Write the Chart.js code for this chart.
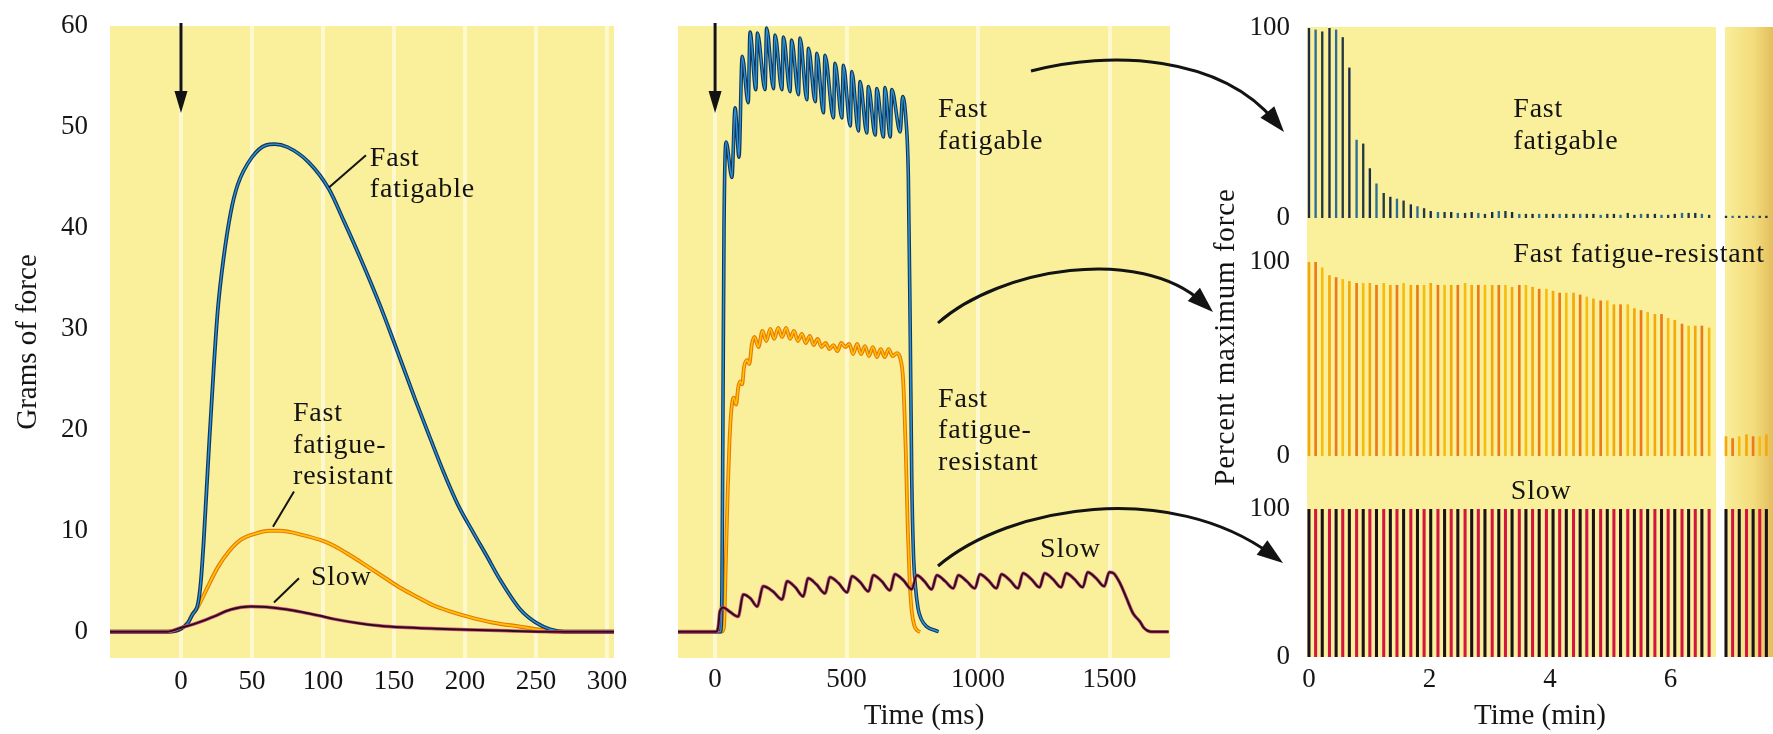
<!DOCTYPE html>
<html>
<head>
<meta charset="utf-8">
<script src="https://cdn.jsdelivr.net/npm/chart.js@4.4.1/dist/chart.umd.min.js"></script>
<style>
  body { margin: 0; background: #fff; width: 1773px; height: 734px; position: relative; overflow: hidden; }
  canvas { position: absolute; }
  .bg { position: absolute; background: #faf09c; }
</style>
</head>
<body>
<div class="bg" style="left:1307px;top:27px;width:409px;height:630px"></div>
<div class="bg" style="left:1725px;top:27px;width:48px;height:630px;background:linear-gradient(90deg,#f9ee9a,#f3dc7c 60%,#e3be5c)"></div>
<canvas id="ffPct" width="573" height="258" style="left:1200px;top:-6px"></canvas>
<canvas id="ffrPct" width="573" height="320" style="left:1200px;top:180px"></canvas>
<canvas id="slowPct" width="573" height="274" style="left:1200px;top:460px"></canvas>
<canvas id="twitch" width="650" height="747" style="left:0;top:-13px"></canvas>
<canvas id="tetanus" width="650" height="734" style="left:650px;top:0"></canvas>
<script>
// ---- twitch (ms, grams of force) ----
const twitchFFTime = [-50, -10, 0, 5, 8, 12, 14, 16, 18, 20, 23, 26, 30, 35, 40, 50, 60, 66, 75, 90, 104, 115, 127, 140, 150, 165, 176, 185, 195, 206, 215, 225, 239, 250, 260, 270, 305];
const twitchFFForce = [0, 0, 0.3, 0.9, 1.7, 2.8, 5, 9, 14, 19, 26, 32, 37, 41.5, 44.3, 47, 48.2, 48.3, 48.0, 46.5, 43.9, 40.6, 36.8, 32.4, 28.7, 23.0, 19.0, 15.8, 12.6, 9.8, 7.6, 5.1, 2.2, 0.9, 0.25, 0, 0];
const twitchFFRTime = [-50, -10, 0, 5, 8, 12, 18, 26, 34, 42, 52, 62, 70, 85, 100, 108, 120, 131, 143, 155, 167, 178, 190, 202, 220, 239, 255, 265, 305];
const twitchFFRForce = [0, 0, 0.3, 0.9, 1.7, 2.5, 4.2, 6.4, 8.0, 9.1, 9.7, 10.0, 10.0, 9.6, 9.0, 8.5, 7.5, 6.5, 5.4, 4.3, 3.4, 2.6, 2.0, 1.5, 0.9, 0.5, 0.15, 0, 0];
const twitchSlowTime = [-50, -10, 0, 10, 23, 35, 49, 60, 75, 85, 97, 108, 125, 140, 155, 180, 202, 230, 260, 305];
const twitchSlowForce = [0, 0, 0.4, 0.8, 1.5, 2.2, 2.5, 2.45, 2.2, 1.95, 1.6, 1.25, 0.85, 0.6, 0.45, 0.3, 0.2, 0.1, 0, 0];

// ---- tetanus (ms, grams of force) ----
const tetFFTime = [-141, 20, 26, 30, 34, 42, 64, 76, 91, 103, 126, 133, 155, 161, 190, 196, 222, 228, 254, 260, 285, 291, 317, 323, 349, 355, 381, 387, 412, 418, 450, 456, 482, 488, 514, 520, 545, 551, 577, 583, 609, 615, 640, 646, 666, 672, 704, 713, 725, 735, 742, 748, 754, 762, 772, 785, 805, 840, 850];
const tetFFForce = [0, 0, 4, 22, 40, 48.5, 45, 51.9, 47, 57, 52.4, 59.4, 53.7, 59.3, 53.7, 59.8, 53.8, 59.1, 53.7, 58.9, 53.5, 58.6, 53.2, 58.8, 52.7, 57.8, 52.5, 57.3, 51.4, 57.1, 50.9, 56.3, 50.9, 56.1, 50.1, 55.5, 49.6, 54.5, 49.4, 54.0, 49.2, 53.8, 49.0, 53.9, 49.0, 53.7, 49.5, 53.0, 51, 45, 30, 15, 8, 4.5, 2.3, 1.2, 0.5, 0.1, 0];
const tetFFRTime = [-141, 25, 34, 40, 48, 55, 62, 71, 80, 88, 95, 103, 110, 122, 130, 140, 150, 165, 180, 195, 210, 225, 240, 255, 270, 285, 300, 315, 330, 345, 360, 375, 390, 405, 420, 435, 450, 465, 480, 495, 510, 525, 540, 555, 570, 585, 600, 615, 630, 645, 660, 675, 692, 705, 715, 725, 733, 740, 748, 758, 770, 780];
const tetFFRForce = [0, 0, 0.5, 6, 13.9, 19, 22, 23.2, 22.5, 24.2, 24.8, 24.5, 26.2, 26.9, 26.5, 28.5, 29.2, 28.2, 29.8, 28.8, 30.0, 29.0, 30.1, 29.2, 30.1, 29.0, 29.8, 28.8, 29.5, 28.6, 29.3, 28.4, 29.0, 28.2, 28.6, 28.0, 28.4, 27.8, 28.6, 28.2, 28.5, 27.5, 28.5, 27.5, 28.3, 27.3, 28.2, 27.2, 28.0, 27.2, 28.0, 27.3, 27.6, 27.0, 25, 18, 10, 5, 2, 0.6, 0.1, 0];
const tetSlowTime = [-141, 5, 12, 18, 31, 55, 88, 107, 135, 160, 183, 220, 255, 274, 305, 335, 354, 385, 418, 437, 470, 502, 521, 552, 583, 602, 634, 665, 684, 716, 748, 767, 796, 824, 843, 875, 906, 925, 957, 988, 1007, 1039, 1070, 1089, 1121, 1152, 1171, 1203, 1234, 1253, 1285, 1316, 1335, 1367, 1398, 1417, 1449, 1480, 1499, 1515, 1540, 1565, 1590, 1616, 1630, 1645, 1660, 1725];
const tetSlowForce = [0, 0, 0.5, 2.0, 2.4, 2.0, 1.5, 3.7, 3.3, 2.5, 4.5, 4.0, 3.2, 5.0, 4.4, 3.5, 5.3, 4.7, 3.8, 5.4, 4.8, 3.9, 5.5, 4.9, 4.0, 5.6, 5.0, 4.1, 5.7, 5.1, 4.2, 5.6, 5.0, 4.2, 5.6, 5.0, 4.3, 5.6, 5.0, 4.3, 5.7, 5.1, 4.3, 5.7, 5.1, 4.3, 5.8, 5.2, 4.4, 5.8, 5.2, 4.4, 5.8, 5.2, 4.4, 5.9, 5.3, 4.5, 5.9, 5.8, 4.8, 3.3, 1.8, 1.0, 0.4, 0.1, 0, 0];

// ---- fatigue test (min, percent maximum force) ----
const fatigueTime = [0.00, 0.11, 0.22, 0.34, 0.45, 0.56, 0.67, 0.79, 0.90, 1.01, 1.12, 1.24, 1.35, 1.46, 1.57, 1.69, 1.80, 1.91, 2.02, 2.14, 2.25, 2.36, 2.47, 2.59, 2.70, 2.81, 2.92, 3.04, 3.15, 3.26, 3.37, 3.49, 3.60, 3.71, 3.82, 3.94, 4.05, 4.16, 4.27, 4.39, 4.50, 4.61, 4.72, 4.84, 4.95, 5.06, 5.17, 5.29, 5.40, 5.51, 5.62, 5.74, 5.85, 5.96, 6.07, 6.19, 6.30, 6.41, 6.52, 6.64, 6.92, 7.03, 7.14, 7.26, 7.37, 7.48, 7.59];
const ffPercent = [100, 99, 98, 100, 99, 95, 79, 41, 39, 26, 18, 13, 11, 10, 9, 7, 6, 5, 3.5, 3, 3, 3, 2.5, 2.5, 3, 2.5, 2, 3, 3.5, 3.5, 3, 2, 2, 2, 2, 2, 2, 2, 2, 2, 2, 2, 2, 1.5, 2, 2, 1.5, 2.5, 1.5, 2, 2, 2, 1.5, 1.5, 2, 2.5, 2.5, 2.5, 2, 1.5, 1, 1, 1, 1, 1, 1, 1];
const ffrPercent = [100, 100, 97, 93, 92, 91, 90, 89, 89, 89, 88, 89, 88, 88, 89, 88, 88, 88, 89, 88, 88, 88, 88, 89, 88, 88, 88, 88, 88, 88, 87, 88, 88, 87, 86, 86, 85, 84, 84, 84, 83, 82, 81, 80, 80, 78, 78, 78, 76, 75, 74, 73, 73, 71, 70, 68, 67, 67, 67, 66, 10, 9, 10, 11, 10, 10, 11];
const slowPercent = [100, 100, 100, 100, 100, 100, 100, 100, 100, 100, 100, 100, 100, 100, 100, 100, 100, 100, 100, 100, 100, 100, 100, 100, 100, 100, 100, 100, 100, 100, 100, 100, 100, 100, 100, 100, 100, 100, 100, 100, 100, 100, 100, 100, 100, 100, 100, 100, 100, 100, 100, 100, 100, 100, 100, 100, 100, 100, 100, 100, 100, 100, 100, 100, 100, 100, 100];

// tick labels
const twitchTimeTicks = [0, 50, 100, 150, 200, 250, 300];
const forceTicks = [0, 10, 20, 30, 40, 50, 60];
const tetanusTimeTicks = [0, 500, 1000, 1500];
const fatigueTimeTicks = [0, 2, 4, 6];
const percentTicks = [0, 100];

Chart.defaults.font.family = '"Liberation Serif", "Times New Roman", serif';
Chart.defaults.font.size = 27;
Chart.defaults.color = '#151515';
Chart.defaults.animation = false;
Chart.defaults.plugins.legend.display = false;
Chart.defaults.plugins.tooltip.enabled = false;
Chart.defaults.elements.point.radius = 0;

const YELLOW = '#faf09c';
const INK = '#131313';

function points(xs, ys) {
  return xs.map((x, i) => ({ x: x, y: ys[i] }));
}

// a trace is a wide outline plus a thin core line, like the printed curves
function trace(xs, ys, outer, inner, order, wOuter, wInner) {
  const d = points(xs, ys);
  return [
    { data: d, borderColor: inner, borderWidth: wInner, order: order, cubicInterpolationMode: 'monotone', fill: false },
    { data: d, borderColor: outer, borderWidth: wOuter, order: order + 1, cubicInterpolationMode: 'monotone', fill: false }
  ];
}

function bars(ys, colors, thickness) {
  return [{
    data: points(fatigueTime, ys),
    backgroundColor: ys.map((v, i) => colors[i % colors.length]),
    barThickness: thickness,
    borderWidth: 0
  }];
}

function fixedTicks(vals) {
  return function (s) { s.ticks = vals.map(v => ({ value: v })); };
}
const plain = v => String(v);

function arrowHead(c, x, y, ang, len, half) {
  c.beginPath();
  c.moveTo(x, y);
  c.lineTo(x - len * Math.cos(ang) + half * Math.sin(ang), y - len * Math.sin(ang) - half * Math.cos(ang));
  c.lineTo(x - len * Math.cos(ang) - half * Math.sin(ang), y - len * Math.sin(ang) + half * Math.cos(ang));
  c.closePath();
  c.fill();
}

const sketch = {
  id: 'sketch',
  beforeDraw(chart, args, o) {
    if (!o.fill) return;
    const a = chart.chartArea, c = chart.ctx;
    c.save();
    c.fillStyle = o.fill;
    c.fillRect(a.left, a.top, a.right - a.left, a.bottom - a.top);
    c.restore();
  },
  afterDraw(chart, args, o) {
    const c = chart.ctx, xs = chart.scales.x, ys = chart.scales.y;
    const ox = o.origin ? o.origin[0] : 0, oy = o.origin ? o.origin[1] : 0;
    c.save();
    c.fillStyle = INK;
    c.strokeStyle = INK;
    // label pointers
    (o.pointers || []).forEach(p => {
      c.lineWidth = 2;
      c.beginPath();
      c.moveTo(xs.getPixelForValue(p[0]), ys.getPixelForValue(p[1]));
      c.lineTo(xs.getPixelForValue(p[2]), ys.getPixelForValue(p[3]));
      c.stroke();
    });
    // series labels
    c.font = '28px "Liberation Serif"';
    c.textBaseline = 'middle';
    c.textAlign = 'left';
    c.letterSpacing = '0.8px';
    (o.labels || []).forEach(l => {
      const x = xs.getPixelForValue(l.x), y = ys.getPixelForValue(l.y);
      l.text.forEach((s, i) => c.fillText(s, x, y + i * 31.5));
    });
    c.letterSpacing = '0px';
    // stimulus marker (page y from 23 to 113)
    if (o.stimulus !== undefined) {
      const x = xs.getPixelForValue(o.stimulus);
      c.lineWidth = 3;
      c.beginPath(); c.moveTo(x, 23 - oy); c.lineTo(x, 96 - oy); c.stroke();
      arrowHead(c, x, 113 - oy, Math.PI / 2, 22, 6.5);
    }
    // curved arrows between panels (page coordinates)
    (o.curves || []).forEach(k => {
      const p = k.map(q => [q[0] - ox, q[1] - oy]);
      const ang = Math.atan2(p[3][1] - p[2][1], p[3][0] - p[2][0]);
      c.lineWidth = 3;
      c.beginPath();
      c.moveTo(p[0][0], p[0][1]);
      c.bezierCurveTo(p[1][0], p[1][1], p[2][0], p[2][1], p[3][0] - 14 * Math.cos(ang), p[3][1] - 14 * Math.sin(ang));
      c.stroke();
      arrowHead(c, p[3][0], p[3][1], ang, 26, 9);
    });
    // free axis title
    if (o.vtitle) {
      c.font = '29px "Liberation Serif"';
      c.letterSpacing = '0.9px';
      c.textAlign = 'center';
      c.translate(o.vtitle.x - ox, o.vtitle.y - oy);
      c.rotate(-Math.PI / 2);
      c.fillText(o.vtitle.text, 0, 0);
    }
    c.restore();
  }
};
Chart.register(sketch);

const whiteGrid = { color: 'rgba(255,255,255,0.5)', lineWidth: 4, drawTicks: false };

// ---------- left: single twitch ----------
new Chart(document.getElementById('twitch'), {
  type: 'line',
  data: {
    datasets: [
      ...trace(twitchSlowTime, twitchSlowForce, '#d64a73', '#261020', 1, 3.4, 2),
      ...trace(twitchFFTime, twitchFFForce, '#12355a', '#2b93d6', 3, 3.8, 1.4),
      ...trace(twitchFFRTime, twitchFFRForce, '#e8760e', '#ffc400', 5, 4, 1.8)
    ]
  },
  options: {
    responsive: false,
    layout: { padding: { top: 39, right: 36, bottom: 0, left: 0 } },
    scales: {
      x: {
        type: 'linear', min: -50, max: 305, offset: false,
        afterBuildTicks: fixedTicks(twitchTimeTicks),
        afterFit: s => { s.height = 76; },
        ticks: { padding: 8, autoSkip: false, maxRotation: 0, callback: plain },
        grid: whiteGrid, border: { display: false }
      },
      y: {
        min: -2.6, max: 60,
        afterBuildTicks: fixedTicks(forceTicks),
        afterFit: s => { s.width = 110; },
        ticks: { padding: 22, callback: plain },
        grid: { display: false, drawTicks: false }, border: { display: false },
        title: { display: true, text: 'Grams of force', font: { size: 29 }, padding: { top: 11, bottom: 0 } }
      }
    },
    plugins: {
      sketch: {
        fill: YELLOW,
        stimulus: 0,
        origin: [0, -13],
        labels: [
          { x: 133, y: 46.9, text: ['Fast', 'fatigable'] },
          { x: 78.9, y: 21.6, text: ['Fast', 'fatigue-', 'resistant'] },
          { x: 91.5, y: 5.4, text: ['Slow'] }
        ],
        pointers: [[130.3, 47.2, 104.2, 44.0], [79.6, 13.9, 64.8, 10.4], [83.1, 5.3, 65.5, 2.9]]
      }
    }
  }
});

// ---------- middle: tetanus ----------
new Chart(document.getElementById('tetanus'), {
  type: 'line',
  data: {
    datasets: [
      ...trace(tetSlowTime, tetSlowForce, '#d64a73', '#261020', 1, 3.4, 2),
      ...trace(tetFFTime, tetFFForce, '#12355a', '#2b93d6', 3, 3.6, 1.5),
      ...trace(tetFFRTime, tetFFRForce, '#e8760e', '#ffc400', 5, 3.8, 1.6)
    ]
  },
  options: {
    responsive: false,
    layout: { padding: { top: 26, right: 130, bottom: 0, left: 28 } },
    scales: {
      x: {
        type: 'linear', min: -141, max: 1730, offset: false,
        afterBuildTicks: fixedTicks(tetanusTimeTicks),
        afterFit: s => { s.height = 76; },
        ticks: { padding: 6, autoSkip: false, maxRotation: 0, callback: plain },
        grid: whiteGrid, border: { display: false },
        title: { display: true, text: 'Time (ms)', font: { size: 29 }, padding: 0 }
      },
      y: { display: false, min: -2.6, max: 60 }
    },
    plugins: {
      sketch: {
        fill: YELLOW,
        stimulus: 0,
        origin: [650, 0],
        labels: [
          { x: 848, y: 51.7, text: ['Fast', 'fatigable'] },
          { x: 848, y: 23.0, text: ['Fast', 'fatigue-', 'resistant'] },
          { x: 1236, y: 8.1, text: ['Slow'] }
        ],
        curves: [
          [[1031, 71], [1110, 50], [1220, 55], [1284, 132]],
          [[938, 323], [1000, 268], [1140, 245], [1213, 312]],
          [[938, 566], [1010, 505], [1170, 480], [1283, 563]]
        ]
      }
    }
  }
});

// ---------- right: repeated stimulation ----------
function fatigueOptions(padTop, padBottom, showX, notes) {
  return {
    responsive: false,
    layout: { padding: { top: padTop, right: 0, bottom: padBottom, left: 0 } },
    scales: {
      x: {
        type: 'linear', display: showX, min: -0.033, max: 7.7, offset: false,
        afterBuildTicks: fixedTicks(fatigueTimeTicks),
        afterFit: s => { s.height = showX ? 77 : 0; },
        ticks: { padding: 7, autoSkip: false, maxRotation: 0, callback: plain },
        grid: { display: false, drawTicks: false, offset: false }, border: { display: false },
        title: { display: true, text: 'Time (min)', font: { size: 29 }, padding: 0 }
      },
      y: {
        min: 0, max: 100,
        afterBuildTicks: fixedTicks(percentTicks),
        afterFit: s => { s.width = 107; },
        ticks: { padding: 17, callback: plain },
        grid: { display: false, drawTicks: false }, border: { display: false }
      }
    },
    plugins: { sketch: notes }
  };
}

new Chart(document.getElementById('ffPct'), {
  type: 'bar',
  data: { datasets: bars(ffPercent, ['#1b2d4a', '#2b6f96', '#243a40'], 1.7) },
  options: fatigueOptions(34, 34, false, {
    labels: [{ x: 3.39, y: 56.8, text: ['Fast', 'fatigable'] }]
  })
});

new Chart(document.getElementById('ffrPct'), {
  type: 'bar',
  data: { datasets: bars(ffrPercent, ['#f4a80c', '#ec7a18', '#f6bd10'], 2) },
  options: fatigueOptions(82, 44, false, {
    origin: [1200, 180],
    labels: [{ x: 3.39, y: 103.6, text: ['Fast fatigue-resistant'] }],
    vtitle: { text: 'Percent maximum force', x: 1226, y: 337 }
  })
});

new Chart(document.getElementById('slowPct'), {
  type: 'bar',
  data: { datasets: bars(slowPercent, ['#1a1216', '#d3163f'], 2.4) },
  options: fatigueOptions(49, 0, true, {
    labels: [{ x: 3.35, y: 111.5, text: ['Slow'] }]
  })
});
</script>
</body>
</html>
